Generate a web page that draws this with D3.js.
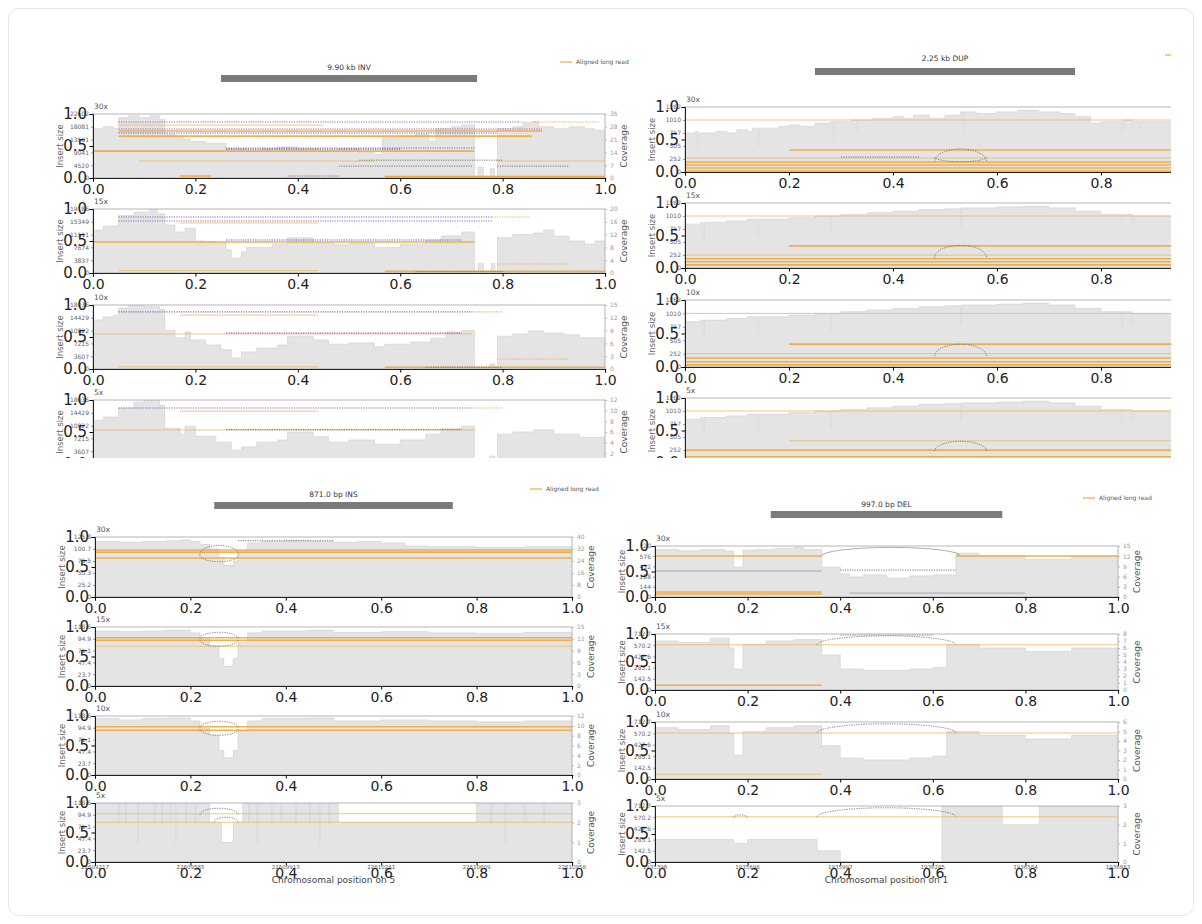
<!DOCTYPE html>
<html><head><meta charset="utf-8">
<script src="https://cdn.jsdelivr.net/npm/d3@7"></script>
<style>
body{margin:0;background:#fff;}
svg{display:block;font-family:"DejaVu Sans",sans-serif;}
</style></head><body>
<svg id="chart" width="1202" height="924"></svg>
<script>
// ---------- shared labels ----------
const depths = ["30x", "15x", "10x", "5x"];
const unitTicks = [0, 0.5, 1];
const fracTicks = [0, 0.2, 0.4, 0.6, 0.8, 1];
const legendLabel = "Aligned long read";

// ---------- 9.90 kb INV ----------
const invTitle = "9.90 kb INV";
const invInsertTicks = [
  [0, 4520, 9041, 13561, 18081, 22602],
  [0, 3837, 7674, 11511, 15349, 19186],
  [0, 3607, 7215, 10822, 14429, 18036],
  [0, 3607, 7215, 10822, 14429, 18036]];
const invCoverageTicks = [[0, 7, 14, 21, 28, 35], [0, 4, 8, 12, 16, 20], [0, 3, 6, 9, 12, 15], [0, 2, 4, 6, 8, 10, 12]];
const invCov30 = [[0,27],[0.02,28],[0.04,27],[0.05,33],[0.07,34],[0.09,33],[0.11,34],[0.13,32],[0.14,24],[0.16,23],[0.175,21],[0.19,20],[0.22,19],[0.26,16],[0.3,15],[0.33,16],[0.36,17],[0.4,16],[0.44,15],[0.48,16],[0.52,14],[0.55,13],[0.565,22],[0.6,23],[0.63,24],[0.655,20],[0.67,27],[0.7,28],[0.72,29],[0.745,1],[0.752,6],[0.762,1],[0.776,5],[0.784,0.5],[0.79,27],[0.82,28],[0.84,30],[0.86,31],[0.87,28],[0.9,27],[0.93,28],[0.96,27],[0.98,26],[1,26]];
const invCov15 = [[0,13.4],[0.02,14.7],[0.05,18],[0.08,19],[0.11,20],[0.125,18.5],[0.14,15],[0.16,12.8],[0.18,14],[0.2,10],[0.22,9.8],[0.24,9.4],[0.26,7.2],[0.27,4.7],[0.29,6.6],[0.3,8],[0.35,9],[0.38,11],[0.43,9.4],[0.47,8.8],[0.5,9.4],[0.55,8],[0.6,9],[0.65,10.3],[0.68,11.6],[0.72,12.8],[0.745,0.5],[0.752,3],[0.762,0.5],[0.778,3],[0.785,0.5],[0.79,11],[0.82,12],[0.86,12.5],[0.88,13.4],[0.9,11.5],[0.93,10],[0.96,9],[0.98,10],[1,10]];
const invCov10 = [[0,11.5],[0.02,12.2],[0.04,12.6],[0.05,14.3],[0.07,15],[0.1,14.6],[0.13,14],[0.14,9.1],[0.16,7.3],[0.18,8.7],[0.19,6.8],[0.22,5.6],[0.25,4.5],[0.27,2.6],[0.29,4],[0.32,4.9],[0.36,5.6],[0.38,7.7],[0.43,6.8],[0.46,5.8],[0.5,6.1],[0.55,5.2],[0.57,5.8],[0.62,6.3],[0.66,7.2],[0.69,8.7],[0.72,9.1],[0.745,0.3],[0.775,1.2],[0.785,0.3],[0.79,7.7],[0.82,8.2],[0.85,8.9],[0.88,8.4],[0.92,8],[0.95,7.3],[1,7.3]];
const invCov5 = [[0,8.2],[0.02,8.8],[0.05,10.5],[0.08,11.6],[0.1,12],[0.13,11],[0.14,6.7],[0.17,5.6],[0.18,7.1],[0.2,5.2],[0.24,4.1],[0.27,2.6],[0.29,3.2],[0.32,4.1],[0.36,4.5],[0.38,6],[0.43,5.1],[0.46,4.1],[0.5,4.5],[0.55,3.7],[0.6,4.5],[0.65,5.6],[0.68,6.6],[0.72,7.1],[0.745,0.2],[0.775,1.5],[0.785,0.2],[0.79,5.6],[0.82,6],[0.86,6.4],[0.9,5.6],[0.95,5],[1,5]];
// reads: [start, end, insert size, style]
const invReads30 = [[0.05,0.83,19800,"p"],[0.83,0.99,19800,"od"],[0.05,0.45,18700,"ot"],[0.05,0.877,17300,"p"],[0.05,0.877,16600,"o"],[0.05,0.79,15900,"b"],[0.05,0.857,14800,"o"],[0.26,0.745,10600,"p"],[0.26,0.6,10200,"b"],[0,0.745,9500,"o"],[0.09,0.55,6000,"ot"],[0.79,1,6000,"ot"],[0.52,0.8,6300,"g"],[0.48,0.74,4200,"g"],[0.79,0.93,4200,"g"],[0.17,0.23,700,"o"],[0.38,0.48,700,"g"],[0.57,1,500,"o"],[0.57,1,250,"o"]];
const invReads15 = [[0.05,0.78,16800,"p"],[0.78,0.854,16800,"od"],[0.05,0.78,15600,"p"],[0.17,0.44,15000,"ot"],[0,0.745,9300,"o"],[0.26,0.72,9900,"b"],[0.79,0.93,2700,"od"],[0.05,0.44,700,"ot"],[0.57,1,500,"o"],[0.63,0.8,400,"g"]];
const invReads10 = [[0.05,0.74,16100,"p"],[0.74,0.8,16100,"od"],[0.17,0.44,15200,"ot"],[0,0.74,9900,"ot"],[0.26,0.72,10100,"p"],[0.79,0.93,2800,"od"],[0.05,0.44,600,"ot"],[0.57,1,500,"o"],[0.65,0.8,500,"g"]];
const invReads5 = [[0.05,0.74,15800,"p"],[0.74,0.8,15800,"od"],[0.17,0.44,14900,"ot"],[0,0.745,9600,"ot"],[0.26,0.72,9700,"p"]];

// ---------- 2.25 kb DUP ----------
const dupTitle = "2.25 kb DUP";
const dupInsertTicks = [[0, 252, 505, 757, 1010, 1262], [0, 252, 505, 757, 1010, 1262], [0, 252, 505, 757, 1010, 1262], [0, 252, 505, 757, 1010, 1262]];
const dupCoverageTicks = [[0, 10, 20, 30, 40], [0, 5, 10, 15, 20], [0, 4, 8, 12, 16], [0, 2, 4, 6, 8]];
const dupCov30 = [[0,24],[0.02,25],[0.025,14],[0.027,24],[0.06,25],[0.08,24],[0.1,26],[0.12,25],[0.13,27],[0.14,16],[0.142,27],[0.18,28],[0.2,29],[0.22,28],[0.25,30],[0.28,31],[0.285,19],[0.287,31],[0.32,32],[0.33,26],[0.332,32],[0.36,33],[0.4,34],[0.42,33],[0.44,35],[0.47,33],[0.5,35],[0.53,37],[0.535,26],[0.537,37],[0.56,36],[0.6,37],[0.64,38],[0.68,37],[0.72,36],[0.75,34],[0.78,30],[0.8,31],[0.84,25],[0.842,32],[0.86,26],[0.862,31],[0.875,27],[0.877,31],[0.9,31],[0.95,31],[1,31]];
const dupCov15 = [[0,13.5],[0.03,14],[0.035,9],[0.037,14],[0.08,14.5],[0.12,15],[0.14,10],[0.142,15],[0.2,15.5],[0.25,16],[0.28,11],[0.282,16],[0.3,16.5],[0.35,17],[0.4,17.5],[0.45,18],[0.5,18.2],[0.53,13],[0.532,18.5],[0.6,18.8],[0.65,19],[0.7,18.5],[0.75,17.5],[0.8,16.5],[0.84,12],[0.842,16.5],[0.86,13],[0.862,16],[0.9,16],[1,16]];
const dupCov10 = [[0,10.8],[0.03,11.2],[0.035,7],[0.037,11.2],[0.08,11.6],[0.12,12],[0.14,8],[0.142,12],[0.2,12.4],[0.25,12.8],[0.28,9],[0.282,12.8],[0.3,13.2],[0.35,13.6],[0.4,14],[0.45,14.4],[0.5,14.6],[0.53,10.4],[0.532,14.8],[0.6,15],[0.65,15.2],[0.7,14.8],[0.75,14],[0.8,13.2],[0.84,9.6],[0.842,13.2],[0.86,10.4],[0.862,12.8],[0.9,12.8],[1,12.8]];
const dupCov5 = [[0,5.4],[0.03,5.6],[0.035,3.6],[0.037,5.6],[0.08,5.8],[0.12,6],[0.14,4],[0.142,6],[0.2,6.2],[0.25,6.4],[0.28,4.4],[0.282,6.4],[0.3,6.6],[0.35,6.8],[0.4,7],[0.45,7.2],[0.5,7.3],[0.53,5.2],[0.532,7.4],[0.6,7.5],[0.65,7.6],[0.7,7.4],[0.75,7],[0.8,6.6],[0.84,4.8],[0.842,6.6],[0.86,5.2],[0.862,6.4],[0.9,6.4],[1,6.4]];
const dupReads30 = [[0,1,1010,"ot"],[0.2,1,427,"o"],[0,1,272,"ot"],[0,1,194,"o"],[0,1,136,"o"],[0,1,78,"o"],[0,1,19,"o"],[0.3,0.45,291,"g"]];
const dupReads15 = [[0,1,1010,"ot"],[0.2,1,430,"o"],[0,1,250,"ot"],[0,1,180,"o"],[0,1,120,"o"],[0,1,60,"o"]];
const dupReads10 = [[0,1,1010,"ot"],[0.2,1,430,"o"],[0,1,250,"ot"],[0,1,170,"o"],[0,1,100,"o"],[0,1,40,"o"]];
const dupReads5 = [[0,1,1010,"ot"],[0.2,1,430,"ot"],[0,1,250,"o"],[0,1,120,"o"]];
// arcs: [start, end, base insert size, peak insert size, style]
const dupArcs30 = [[0.48,0.58,200,447,"g"],[0.48,0.58,291,200,"g"]];
const dupArcs15 = [[0.48,0.58,200,440,"g"]];
const dupArcs10 = [[0.48,0.58,200,430,"g"]];
const dupArcs5 = [[0.48,0.58,230,420,"g"]];

// ---------- 871.0 bp INS ----------
const insTitle = "871.0 bp INS";
const insInsertTicks = [[0, 25.2, 50.3, 75.5, 100.7, 125.8], [0, 23.7, 47.4, 71.1, 94.9, 118.6], [0, 23.7, 47.4, 71.1, 94.9, 118.6], [0, 23.7, 47.4, 71.1, 94.9, 118.6]];
const insCoverageTicks = [[0, 8, 16, 24, 32, 40], [0, 3, 6, 9, 12, 15], [0, 2, 4, 6, 8, 10, 12], [0, 1, 2, 3]];
const insGenomicTicks = ["22609217", "22609565", "22609913", "22610261", "22610609", "22610958"];
const insXLabel = "Chromosomal position on 5";
const insCov30 = [[0,37],[0.05,36.5],[0.1,37],[0.15,37.5],[0.18,38],[0.2,37],[0.22,35],[0.24,32],[0.26,26],[0.27,21],[0.29,24],[0.3,31],[0.32,36],[0.35,37],[0.4,37.5],[0.45,37],[0.5,36.5],[0.55,37],[0.6,36],[0.65,34],[0.7,33.5],[0.8,33],[0.9,33.5],[1,33.5]];
const insCov15 = [[0,14],[0.05,13.8],[0.1,14],[0.15,14.2],[0.2,13.5],[0.22,12],[0.24,10],[0.26,7],[0.27,5],[0.29,7],[0.3,11],[0.32,13.5],[0.35,14],[0.45,14.2],[0.5,13.6],[0.6,13.8],[0.7,13.5],[0.8,13.4],[0.9,13.6],[1,13.6]];
const insCov10 = [[0,11.5],[0.05,11.2],[0.1,11.5],[0.15,11.6],[0.2,11],[0.22,9.5],[0.24,8],[0.26,5],[0.27,3.5],[0.29,5],[0.3,9],[0.32,11],[0.35,11.5],[0.45,11.6],[0.5,11],[0.6,11.2],[0.7,11],[0.8,10.8],[0.9,11],[1,11]];
const insCov5 = [[0,3],[0.05,2],[0.0515,3],[0.064,2],[0.0655,3],[0.09,1],[0.0915,3],[0.125,2],[0.1265,3],[0.14,2],[0.1415,3],[0.158,2],[0.1595,3],[0.168,1],[0.1695,3],[0.19,2],[0.1915,3],[0.21,2],[0.2115,3],[0.24,2],[0.265,1],[0.29,2],[0.31,3],[0.322,2],[0.3235,3],[0.34,1],[0.3415,3],[0.37,2],[0.3715,3],[0.39,2],[0.3915,3],[0.42,2],[0.4215,3],[0.45,2],[0.4515,3],[0.47,1],[0.4715,3],[0.49,2],[0.4915,3],[0.51,2],[0.8,3],[0.83,2],[0.8315,3],[0.86,1],[0.8615,3],[0.9,2],[0.9015,3],[0.94,2],[0.9415,3],[1,3]];
const insReads30 = [[0,1,98.5,"o"],[0,1,94,"o"],[0,1,81.7,"o"],[0.3,0.5,118,"g"]];
const insReads15 = [[0,1,97,"o"],[0,1,92,"o"],[0,1,80,"ot"]];
const insReads10 = [[0,1,97,"o"],[0,1,90,"o"]];
const insReads5 = [[0,1,97,"ot"],[0,1,80,"ot"]];
const insArcs30 = [[0.22,0.3,90,108,"g"],[0.22,0.3,88,74,"g"]];
const insArcs15 = [[0.22,0.3,95,108,"g"],[0.22,0.3,92,80,"g"]];
const insArcs10 = [[0.22,0.3,95,108,"g"],[0.22,0.3,92,80,"g"]];
const insArcs5 = [[0.22,0.3,95,108,"g"],[0.25,0.3,80,90,"g"]];

// ---------- 997.0 bp DEL ----------
const delTitle = "997.0 bp DEL";
const delInsertTicks = [[0, 144, 288, 432, 576, 720], [0, 142.5, 285.1, 427.6, 570.2, 712.7], [0, 142.5, 285.1, 427.6, 570.2, 712.7], [0, 142.5, 285.1, 427.6, 570.2, 712.7]];
const delCoverageTicks = [[0, 3, 6, 9, 12, 15], [0, 1, 2, 3, 4, 5, 6, 7, 8], [0, 1, 2, 3, 4, 5, 6], [0, 1, 2, 3]];
const delGenomicTicks = ["1935396", "1935698", "1935997", "1936285", "1936584", "1936883"];
const delXLabel = "Chromosomal position on 1";
const delCov30 = [[0,14],[0.05,13.6],[0.1,14],[0.15,13.5],[0.17,8.8],[0.19,13.8],[0.22,14],[0.26,14.3],[0.3,14.6],[0.32,14],[0.36,8.8],[0.4,6.8],[0.42,5.9],[0.45,6.5],[0.5,5.6],[0.55,6.2],[0.6,6.5],[0.65,12.9],[0.7,12.2],[0.8,11],[0.9,12],[1,12]];
const delCov15 = [[0,7],[0.05,6.8],[0.12,7.4],[0.16,6],[0.17,3],[0.19,6.5],[0.24,7],[0.3,7.2],[0.36,5],[0.4,3],[0.45,2.8],[0.55,3],[0.6,3.2],[0.63,6.5],[0.7,6],[0.8,5.5],[0.9,6],[1,6]];
const delCov10 = [[0,5.4],[0.05,5.2],[0.12,5.6],[0.16,4.8],[0.17,2.5],[0.19,5],[0.24,5.4],[0.3,5.6],[0.36,3.5],[0.4,2.2],[0.45,2],[0.55,2.2],[0.6,2.4],[0.63,5],[0.7,4.6],[0.8,4.2],[0.9,4.6],[1,4.6]];
const delCov5 = [[0,1.2],[0.17,1],[0.2,1.2],[0.35,0.6],[0.4,0],[0.6,0],[0.62,3],[0.75,2],[0.83,3],[1,3]];
const delReads30 = [[0,0.36,578,"o"],[0.65,1,578,"o"],[0,0.36,367,"gs"],[0.4,0.65,380,"g"],[0,0.36,70,"o"],[0,0.36,42,"o"],[0.42,0.8,55,"gs"]];
const delReads15 = [[0,1,575,"ot"],[0,0.36,60,"o"],[0.4,0.6,700,"g"]];
const delReads10 = [[0,1,575,"ot"],[0,0.36,60,"ot"]];
const delReads5 = [[0,1,575,"ot"]];
const delArcs30 = [[0.36,0.66,578,700,"gs"]];
const delArcs15 = [[0.35,0.65,575,690,"g"]];
const delArcs10 = [[0.35,0.65,575,690,"g"]];
const delArcs5 = [[0.17,0.2,560,600,"g"],[0.35,0.65,575,690,"g"]];

// ---------- figure layout ----------
const VIEW_RIGHT = 1171;   // the upper row is cropped here
const panels = [
  { title: invTitle, left: 93, right: 605, titleY: 70, barY: 75, legend: [560, 62],
    tops: [114, 209, 305, 400], bottoms: [178, 273, 369, 464],
    ins: invInsertTicks, cov: invCoverageTicks,
    coverage: [invCov30, invCov15, invCov10, invCov5],
    reads: [invReads30, invReads15, invReads10, invReads5], arcs: [[], [], [], []], clip: true },
  { title: dupTitle, left: 685, right: 1205, titleY: 61, barY: 68, legend: [1165, 55],
    tops: [107, 203, 300, 398], bottoms: [172, 268, 367, 463],
    ins: dupInsertTicks, cov: dupCoverageTicks,
    coverage: [dupCov30, dupCov15, dupCov10, dupCov5],
    reads: [dupReads30, dupReads15, dupReads10, dupReads5], arcs: [dupArcs30, dupArcs15, dupArcs10, dupArcs5], clip: true },
  { title: insTitle, left: 95, right: 572, titleY: 497, barY: 502, legend: [530, 489],
    tops: [537, 627, 716, 803], bottoms: [597, 686, 775, 862],
    ins: insInsertTicks, cov: insCoverageTicks,
    coverage: [insCov30, insCov15, insCov10, insCov5],
    reads: [insReads30, insReads15, insReads10, insReads5], arcs: [insArcs30, insArcs15, insArcs10, insArcs5],
    genomic: insGenomicTicks, xlabel: insXLabel },
  { title: delTitle, left: 655, right: 1118, titleY: 507, barY: 511, legend: [1083, 498],
    tops: [546, 634, 722, 806], bottoms: [597, 690, 779, 862],
    ins: delInsertTicks, cov: delCoverageTicks,
    coverage: [delCov30, delCov15, delCov10, delCov5],
    reads: [delReads30, delReads15, delReads10, delReads5], arcs: [delArcs30, delArcs15, delArcs10, delArcs5],
    genomic: delGenomicTicks, xlabel: delXLabel }
];

const readStyles = {
  o:  { stroke: "#f2a93b", width: 1.6, dash: null, opacity: 0.9 },
  ot: { stroke: "#f2b458", width: 0.9, dash: null, opacity: 0.85 },
  od: { stroke: "#efa640", width: 1.1, dash: "1.2,1.2", opacity: 0.9 },
  p:  { stroke: "#7d5fc4", width: 1.1, dash: "1.2,1.2", opacity: 0.9 },
  b:  { stroke: "#3f55e0", width: 1.1, dash: "1.2,1.2", opacity: 0.9 },
  g:  { stroke: "#6d6d6d", width: 1.0, dash: "1.2,1.2", opacity: 0.9 },
  gs: { stroke: "#9a9a9a", width: 0.9, dash: null, opacity: 0.9 }
};

const svg = d3.select("#chart");
svg.append("rect").attr("x", 8.5).attr("y", 8.5).attr("width", 1185).attr("height", 907)
  .attr("rx", 10).attr("fill", "#fff").attr("stroke", "#e6e6e6");

const defs = svg.append("defs");
defs.append("clipPath").attr("id", "topClip").append("rect")
  .attr("x", 0).attr("y", 0).attr("width", VIEW_RIGHT).attr("height", 458);

panels.forEach((P, pi) => {
  const root = svg.append("g").attr("clip-path", P.clip ? "url(#topClip)" : null);
  const x = d3.scaleLinear().domain([0, 1]).range([P.left, P.right]);
  const rightVisible = P.right + 30 < VIEW_RIGHT;

  // title and SV extent bar
  root.append("text").attr("x", x(0.5)).attr("y", P.titleY).attr("text-anchor", "middle")
    .attr("font-size", 7.5).attr("fill", "#333").text(P.title);
  root.append("rect").attr("x", x(0.25)).attr("y", P.barY).attr("width", x(0.75) - x(0.25))
    .attr("height", 7).attr("fill", "#7a7a7a");
  // legend
  root.append("line").attr("x1", P.legend[0]).attr("x2", P.legend[0] + 12)
    .attr("y1", P.legend[1]).attr("y2", P.legend[1]).attr("stroke", "#f2a93b").attr("stroke-width", 1.2);
  if (rightVisible) {
    root.append("text").attr("x", P.legend[0] + 16).attr("y", P.legend[1] + 2).attr("font-size", 6)
      .attr("fill", "#555").text(legendLabel);
  }

  depths.forEach((depth, di) => {
    const top = P.tops[di], bottom = P.bottoms[di];
    const insT = P.ins[di], covT = P.cov[di];
    const yIns = d3.scaleLinear().domain([0, insT[insT.length - 1]]).range([bottom, top]);
    const yCov = d3.scaleLinear().domain([0, covT[covT.length - 1]]).range([bottom, top]);
    const yUnit = d3.scaleLinear().domain([0, 1]).range([bottom, top]);
    const g = root.append("g");
    const cid = `clip-${pi}-${di}`;
    defs.append("clipPath").attr("id", cid).append("rect")
      .attr("x", P.left).attr("y", top).attr("width", P.right - P.left).attr("height", bottom - top);

    // coverage profile
    const area = d3.area().curve(d3.curveStepAfter)
      .x(d => x(d[0])).y0(bottom).y1(d => yCov(d[1]));
    const plot = g.append("g").attr("clip-path", `url(#${cid})`);
    plot.append("path").datum(P.coverage[di]).attr("d", area)
      .attr("fill", "#e4e4e4").attr("stroke", "#d3d3d3").attr("stroke-width", 0.7);

    // reads
    P.reads[di].forEach(r => {
      const s = readStyles[r[3]];
      plot.append("line").attr("x1", x(r[0])).attr("x2", x(r[1]))
        .attr("y1", yIns(r[2])).attr("y2", yIns(r[2]))
        .attr("stroke", s.stroke).attr("stroke-width", s.width)
        .attr("stroke-dasharray", s.dash).attr("opacity", s.opacity);
    });
    P.arcs[di].forEach(a => {
      const s = readStyles[a[4]];
      const x0 = x(a[0]), x1 = x(a[1]), yb = yIns(a[2]), yp = yIns(a[3]);
      const rx = (x1 - x0) / 2, ry = Math.abs(yb - yp);
      const sweep = yp < yb ? 1 : 0;
      plot.append("path").attr("d", `M${x0},${yb} A${rx},${ry} 0 0 ${sweep} ${x1},${yb}`)
        .attr("fill", "none").attr("stroke", s.stroke).attr("stroke-width", s.width)
        .attr("stroke-dasharray", s.dash).attr("opacity", s.opacity);
    });

    // frame
    g.append("rect").attr("x", P.left).attr("y", top).attr("width", P.right - P.left)
      .attr("height", bottom - top).attr("fill", "none").attr("stroke", "#b5b5b5").attr("stroke-width", 1);

    // insert size axis (left)
    const insAxis = d3.axisLeft(yIns).tickValues(insT).tickFormat(d => String(d)).tickSize(2).tickPadding(2);
    const ia = g.append("g").attr("transform", `translate(${P.left},0)`).call(insAxis);
    ia.select(".domain").remove();
    ia.selectAll("text").attr("font-size", 6).attr("fill", "#666").attr("font-family", "DejaVu Sans");
    ia.selectAll("line").attr("stroke", "#999");
    g.append("text").attr("transform", `translate(${P.left - 30},${(top + bottom) / 2}) rotate(-90)`)
      .attr("text-anchor", "middle").attr("font-size", 8.5).attr("fill", "#666").text("Insert size");

    // coverage axis (right)
    if (rightVisible) {
      const covAxis = d3.axisRight(yCov).tickValues(covT).tickFormat(d => String(d)).tickSize(2).tickPadding(3);
      const ca = g.append("g").attr("transform", `translate(${P.right},0)`).call(covAxis);
      ca.select(".domain").remove();
      ca.selectAll("text").attr("font-size", 6).attr("fill", "#999").attr("font-family", "DejaVu Sans");
      ca.selectAll("line").attr("stroke", "#bbb");
      g.append("text").attr("transform", `translate(${P.right + 22},${(top + bottom) / 2}) rotate(-90)`)
        .attr("text-anchor", "middle").attr("font-size", 9).attr("fill", "#555").text("Coverage");
    }

    // depth label
    g.append("text").attr("x", P.left + 1).attr("y", top - 5).attr("font-size", 7.5)
      .attr("fill", "#555").text(depth);

    // genomic position ticks on the last row
    if (P.genomic && di === 3) {
      P.genomic.forEach((lab, k) => {
        g.append("text").attr("x", x(fracTicks[k])).attr("y", bottom + 7).attr("text-anchor", "middle")
          .attr("font-size", 5.5).attr("fill", "#555").text(lab);
      });
      g.append("text").attr("x", x(0.5)).attr("y", bottom + 21).attr("text-anchor", "middle")
        .attr("font-size", 9).attr("fill", "#444").text(P.xlabel);
    }

    // default unit axes drawn over the plot
    const shown = fracTicks.filter(t => x(t) < VIEW_RIGHT - 10);
    const ux = d3.axisBottom(x).tickValues(shown).tickFormat(d3.format(".1f")).tickSize(3.5).tickPadding(2.5);
    const uxa = g.append("g").attr("transform", `translate(0,${bottom})`).call(ux);
    uxa.select(".domain").attr("stroke", "#222");
    uxa.selectAll("text").attr("font-size", 14).attr("fill", "#222").attr("font-family", "DejaVu Sans");
    const uy = d3.axisLeft(yUnit).tickValues(unitTicks).tickFormat(d3.format(".1f")).tickSize(3.5).tickPadding(2.5);
    const uya = g.append("g").attr("transform", `translate(${P.left},0)`).call(uy);
    uya.select(".domain").attr("stroke", "#222");
    uya.selectAll("text").attr("font-size", 15).attr("fill", "#222").attr("font-family", "DejaVu Sans");
  });
});
</script>
</body></html>
